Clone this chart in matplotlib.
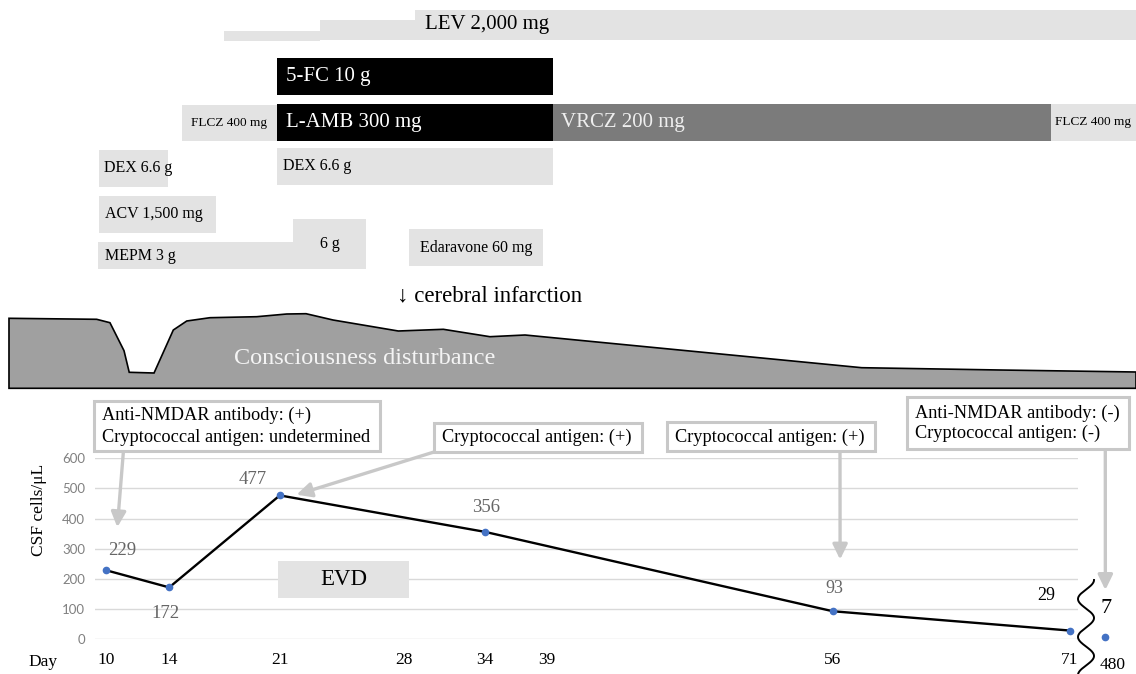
import numpy as np
import matplotlib.pyplot as plt
from matplotlib.patches import Rectangle
from matplotlib.transforms import offset_copy, ScaledTranslation

plt.rcParams['font.family'] = ['Liberation Serif', 'DejaVu Serif']

W, H = 1136, 674

# CSF cell counts per day
days = [10, 14, 21, 34, 56, 71]
csf_cells = [229, 172, 477, 356, 93, 29]
late_day = 480
late_cells = 7
tick_days = [10, 14, 21, 28, 34, 39, 56, 71]

# drug administration periods (day from / to)
drug_labels = ['', '', 'LEV 2,000 mg', '5-FC 10 g', 'FLCZ 400 mg', 'L-AMB 300 mg',
               'VRCZ 200 mg', 'FLCZ 400 mg', 'DEX 6.6 g', 'DEX 6.6 g',
               'ACV 1,500 mg', 'MEPM 3 g', '6 g', 'Edaravone 60 mg']
drug_start = [17.47, 23.54, 29.56, 20.82, 14.81, 20.82, 38.29, 69.81,
              9.56, 20.82, 9.56, 9.49, 21.84, 29.18]
drug_end = [23.54, 29.56, 75.19, 38.29, 20.82, 38.29, 69.81, 75.19,
            13.92, 38.29, 16.96, 21.84, 26.46, 37.66]

# consciousness disturbance level
con_days = [3.86, 9.41, 10.25, 11.14, 11.47, 13.04, 14.26, 15.11, 16.58, 19.54,
            21.44, 22.66, 24.37, 28.5, 31.35, 34.3, 36.52, 57.83, 66.58, 75.19]
con_level = [70, 69, 65.6, 37.6, 16, 15.3, 58.3, 67.3, 70.6, 71.6,
             74.3, 74.6, 68.3, 57.3, 59, 51.6, 53.3, 20.6, 18.3, 16.3]

evd_start, evd_end = 20.9, 29.15
infarction_day = 28.42

# layout / style of the drug rows (pixel rows in the top panel)
row_y = [36, 30, 25, 76.5, 123, 122.5, 122.5, 122.5, 168.5, 166.5, 214.5, 255.5, 244, 247.5]
row_h = [10, 20, 30, 37, 36, 37, 37, 37, 37, 37, 37, 27, 50, 37]
LIGHT = '#e3e3e3'
row_col = [LIGHT, LIGHT, LIGHT, 'black', LIGHT, 'black', '#7b7b7b', LIGHT,
           LIGHT, LIGHT, LIGHT, LIGHT, LIGHT, LIGHT]
txt_col = ['black', 'black', 'black', 'white', 'black', 'white', '#eeeeee', 'black',
           'black', 'black', 'black', 'black', 'black', 'black']
txt_size = [15, 15, 15, 15, 9.5, 15, 15, 9.5, 11.5, 11.5, 11.5, 11.5, 11.5, 11.5]
txt_pad = [None, None, 10, 9, None, 9, 8, None, 5, 6, 6, 7, None, None]

xlim_full = (3.291, 75.19)


def px_rect(x0, y0, x1, y1):
    return [x0 / W, 1 - y1 / H, (x1 - x0) / W, (y1 - y0) / H]


fig = plt.figure(figsize=(W / 100, H / 100), dpi=100)

# ---- drug timeline ----
axd = fig.add_axes([0, 0, 1, 1])
axd.set_xlim(*xlim_full)
axd.set_ylim(H, 0)
axd.axis('off')
widths = [e - s for s, e in zip(drug_start, drug_end)]
axd.barh(row_y, widths, left=drug_start, height=row_h, color=row_col, linewidth=0)
for i, lab in enumerate(drug_labels):
    if not lab:
        continue
    if txt_pad[i] is None:
        axd.text((drug_start[i] + drug_end[i]) / 2, row_y[i], lab, ha='center', va='center',
                 color=txt_col[i], fontsize=txt_size[i])
    else:
        axd.annotate(lab, (drug_start[i], row_y[i]), xytext=(txt_pad[i], 0),
                     textcoords='offset pixels', ha='left', va='center',
                     color=txt_col[i], fontsize=txt_size[i])
axd.text(infarction_day, 296, '\u2193 cerebral infarction', ha='left', va='center', fontsize=16.5)

# ---- consciousness disturbance ----
axc = fig.add_axes(px_rect(0, 308.3, W, 388.3))
axc.set_xlim(*xlim_full)
axc.set_ylim(0, 80)
axc.axis('off')
xs = [con_days[0]] + con_days + [con_days[-1]]
ys = [0] + con_level + [0]
axc.fill(xs, ys, facecolor='#a0a0a0', edgecolor='black', linewidth=1.2, clip_on=False)
axc.text(26.39, 30, 'Consciousness disturbance', color='#f4f4f4', fontsize=17.5,
         ha='center', va='center')

# ---- CSF cells ----
ax = fig.add_axes(px_rect(95, 458.3, 1078, 639.3))
ax.set_xlim(9.304, 71.519)
ax.set_ylim(0, 600)
for s in ax.spines.values():
    s.set_visible(False)
ax.set_yticks(range(0, 601, 100))
ax.yaxis.grid(True, color='#d9d9d9', linewidth=1)
ax.set_axisbelow(True)
ax.set_xticks(tick_days)
ax.set_xticklabels([str(d) for d in tick_days], fontsize=12.5)
ax.tick_params(axis='x', length=0, pad=9)
ax.tick_params(axis='y', length=0, pad=7, labelsize=9.5, labelcolor='#808080')
for t in ax.get_yticklabels():
    t.set_fontfamily('Lato')
# the day labels 28 and 39 sit slightly off their true position in the original
nudge = {'28': 14, '39': -17}
for t in ax.get_xticklabels():
    if t.get_text() in nudge:
        t.set_transform(t.get_transform() + ScaledTranslation(nudge[t.get_text()] / 100, 0,
                                                               fig.dpi_scale_trans))

ax.add_patch(Rectangle((evd_start, 137.9), evd_end - evd_start, 121.7,
                       facecolor=LIGHT, edgecolor='none', zorder=1))
ax.text((evd_start + evd_end) / 2, 198.8, 'EVD', fontsize=16.5, ha='center', va='center')

ax.plot(days, csf_cells, color='black', linewidth=1.7, marker='o', markersize=4.5,
        markerfacecolor='#4472c4', markeredgecolor='#4472c4', zorder=3)
late_pos = 73.25
ax.plot([late_pos], [late_cells], 'o', markersize=4.5, color='#4472c4', clip_on=False, zorder=3)
ax.annotate(str(late_day), (late_pos, 0), xycoords=ax.get_xaxis_transform(),
            xytext=(7, -26), textcoords='offset pixels', ha='center', va='center',
            fontsize=12.5, annotation_clip=False)

lab_off = [(16, 20), (-4, -26), (-27, 16), (1, 24), (2, 23), (-24, 35)]
lab_col = ['#666666'] * 5 + ['black']
lab_size = [13.5, 13.5, 13.5, 13.5, 13, 13]
for d, v, off, c, fs in zip(days, csf_cells, lab_off, lab_col, lab_size):
    ax.annotate(str(v), (d, v), xytext=off, textcoords='offset pixels',
                ha='center', va='center', color=c, fontsize=fs)
ax.annotate(str(late_cells), (late_pos, late_cells), xytext=(1, 29), textcoords='offset pixels',
            ha='center', va='center', fontsize=16, annotation_clip=False)

# ---- overlay: boxes, arrows, labels ----
ov = fig.add_axes([0, 0, 1, 1])
ov.set_xlim(0, W)
ov.set_ylim(H, 0)
ov.axis('off')
ov.patch.set_visible(False)

BOX = '#c8c8c8'
boxes = [(94.2, 400.5, 286, 50.7), (434.2, 422.5, 207.6, 29.3),
         (667.2, 422.2, 207.3, 29), (906.5, 396.5, 222.7, 52)]
for bx, by, bw, bh in boxes:
    ov.add_patch(Rectangle((bx, by), bw, bh, facecolor='white', edgecolor=BOX, linewidth=2.2))

box_text = [(101.7, 415.7, 'Anti-NMDAR antibody: (+)'),
            (101.7, 437.3, 'Cryptococcal antigen: undetermined'),
            (441.7, 437.5, 'Cryptococcal antigen: (+)'),
            (675, 437.3, 'Cryptococcal antigen: (+)'),
            (915, 413.3, 'Anti-NMDAR antibody: (-)'),
            (915, 433.3, 'Cryptococcal antigen: (-)')]
for tx, ty, s in box_text:
    ov.text(tx, ty, s, ha='left', va='center', fontsize=13.2)

# arrows from boxes to points (tip offset from the point, in pixels)
arrow_from = [(123.3, 452.7), (434, 452), (840, 453), (1105.3, 451)]
arrow_pt = [(days[0], csf_cells[0]), (days[2], csf_cells[2]),
            (days[4], csf_cells[4]), (late_pos, late_cells)]
arrow_off = [(11.3, 43), (16.7, 0.7), (7.3, 51.7), (0, 47.2)]
for start, pt, off in zip(arrow_from, arrow_pt, arrow_off):
    tr = offset_copy(ax.transData, fig=fig, x=off[0], y=off[1], units='dots')
    ov.annotate('', xy=pt, xycoords=tr, xytext=start, textcoords='data',
                arrowprops=dict(arrowstyle='-|>,head_length=0.45,head_width=0.22',
                                color=BOX, lw=2.4, shrinkA=0, shrinkB=0,
                                mutation_scale=20), annotation_clip=False)

# axis break squiggle
yy = np.linspace(580, 674, 200)
ov.plot(1086 + 8 * np.cos(2 * np.pi * (yy - 580) / 38), yy, color='black', linewidth=1.4)

ov.text(42.7, 662, 'Day', ha='center', va='center', fontsize=12.5)
ov.text(39, 510, 'CSF cells/\u03bcL', rotation=90, ha='center', va='center', fontsize=12.5)

fig.savefig('out.png', dpi=100)
